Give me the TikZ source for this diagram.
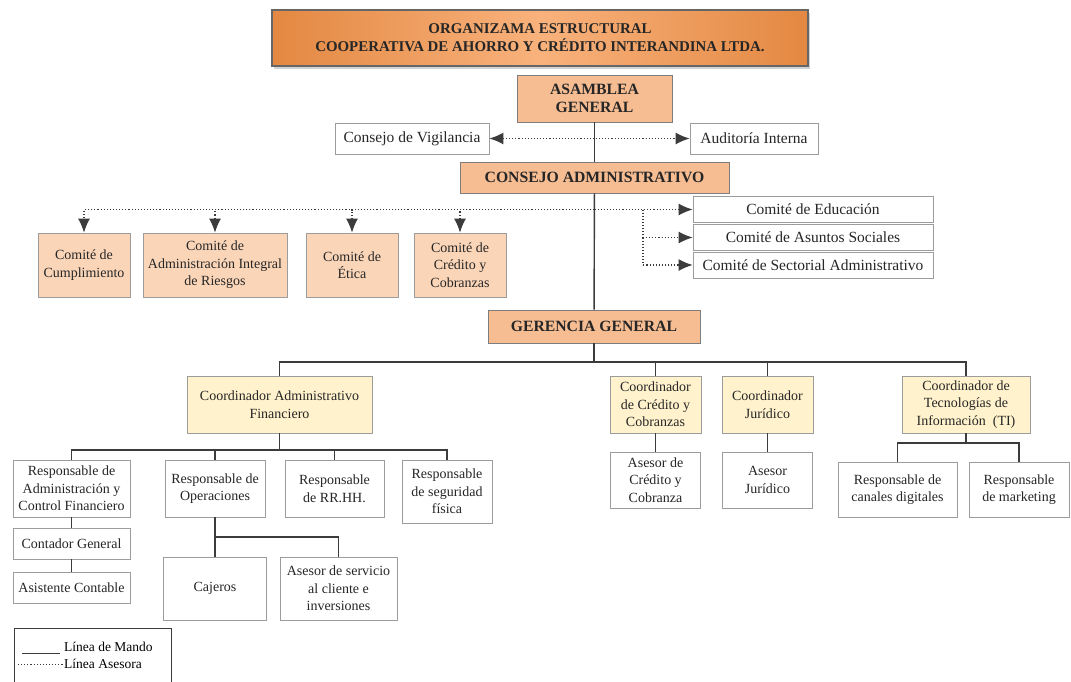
\documentclass[tikz,border=0pt]{standalone}
\usepackage{fontspec}
\setmainfont{Liberation Serif}
\usetikzlibrary{arrows.meta,shadows}

\definecolor{tituloA}{HTML}{E38842}
\definecolor{tituloB}{HTML}{F9B27C}
\definecolor{naranja}{HTML}{F6BC92}
\definecolor{durazno}{HTML}{FAD5B8}
\definecolor{crema}{HTML}{FFF2CC}
\definecolor{borde}{HTML}{9C9C9C}
\definecolor{linea}{HTML}{3C3C3C}

\begin{document}
\begin{tikzpicture}[x=1pt,y=-1pt,>={Latex[length=14pt,width=12pt]},
  box/.style={rectangle, draw=borde, line width=0.9pt, fill=white, align=center, inner sep=2pt, text=black!85, font=\fontsize{14}{17.5}\selectfont},
  jefe/.style={box, fill=naranja, draw=borde!80!black, font=\bfseries\fontsize{15.7}{18}\selectfont},
  comite/.style={box, fill=durazno},
  coord/.style={box, fill=crema},
  mando/.style={draw=linea, line width=1.4pt},
  asesora/.style={draw=linea, line width=1.1pt, dotted}
]
  \useasboundingbox (0,0) rectangle (1071,681);

  % Nodes
  \node[box, draw=black!60, line width=1.2pt, left color=tituloA, right color=tituloA, middle color=tituloB,
        drop shadow={opacity=0.35, shadow xshift=2pt, shadow yshift=-3pt},
        minimum width=536, minimum height=56, font=\bfseries\fontsize{14.9}{18}\selectfont] (titulo) at (540,38)
        {ORGANIZAMA ESTRUCTURAL\\COOPERATIVA DE AHORRO Y CRÉDITO INTERANDINA LTDA.};
  \node[jefe, minimum width=155, minimum height=47] (asamblea) at (594.5,98.5) {ASAMBLEA\\GENERAL};
  \node[box, minimum width=154, minimum height=31, font=\fontsize{15.5}{18}\selectfont] (vigilancia) at (412,138.5) {Consejo de Vigilancia};
  \node[box, minimum width=128, minimum height=31, font=\fontsize{15.5}{18}\selectfont] (auditoria) at (754,138.5) {Auditoría Interna};
  \node[jefe, minimum width=269, minimum height=31] (consejo) at (594.5,177.5) {CONSEJO ADMINISTRATIVO};

  % comites
  \node[comite, minimum width=92, minimum height=64] (cumpl) at (84,265) {Comité de\\Cumplimiento};
  \node[comite, minimum width=144, minimum height=64] (riesgos) at (215,265) {Comité de\\Administración Integral\\de Riesgos};
  \node[comite, minimum width=92, minimum height=64] (etica) at (352,265) {Comité de\\Ética};
  \node[comite, minimum width=92, minimum height=64] (credcob) at (460,265) {Comité de\\Crédito y\\Cobranzas};
  \node[box, minimum width=240, minimum height=26, font=\fontsize{15.5}{17}\selectfont] (educ) at (813,209.5) {Comité de Educación};
  \node[box, minimum width=240, minimum height=26, font=\fontsize{15.5}{17}\selectfont] (sociales) at (813,237.5) {Comité de Asuntos Sociales};
  \node[box, minimum width=240, minimum height=26, font=\fontsize{15.5}{17}\selectfont] (sectorial) at (813,265) {Comité de Sectorial Administrativo};

  \node[jefe, minimum width=212, minimum height=33] (gerencia) at (594,326.5) {GERENCIA GENERAL};

  % coordinadores
  \node[coord, minimum width=185, minimum height=57] (cadmfin) at (279.5,404.5) {Coordinador Administrativo\\Financiero};
  \node[coord, minimum width=91, minimum height=57] (ccredito) at (655.5,404.5) {Coordinador\\de Crédito y\\Cobranzas};
  \node[coord, minimum width=91, minimum height=57] (cjuridico) at (767.5,404.5) {Coordinador\\Jurídico};
  \node[coord, minimum width=128, minimum height=57] (cti) at (966,404.5) {Coordinador de\\Tecnologías de\\Información \ (TI)};

  \node[box, minimum width=90, minimum height=56] (acredito) at (655.5,480) {Asesor de\\Crédito y\\Cobranza};
  \node[box, minimum width=90, minimum height=56] (ajuridico) at (767.5,480) {Asesor\\Jurídico};
  \node[box, minimum width=119, minimum height=55] (rcanales) at (897.5,489.5) {Responsable de\\canales digitales};
  \node[box, minimum width=100, minimum height=55] (rmarketing) at (1019,489.5) {Responsable\\de marketing};

  % area administrativa financiera
  \node[box, minimum width=117, minimum height=57] (radmin) at (71.5,488.5) {Responsable de\\Administración y\\Control Financiero};
  \node[box, minimum width=100, minimum height=57] (roper) at (215,488.5) {Responsable de\\Operaciones};
  \node[box, minimum width=99, minimum height=57] (rrhh) at (334.5,488.5) {Responsable\\de RR.HH.};
  \node[box, minimum width=90, minimum height=63] (rseg) at (447,491.5) {Responsable\\de seguridad\\física};
  \node[box, minimum width=117, minimum height=31] (contador) at (71.5,543.5) {Contador General};
  \node[box, minimum width=117, minimum height=31] (asistente) at (71.5,587.5) {Asistente Contable};
  \node[box, minimum width=103, minimum height=63] (cajeros) at (215,588.5) {Cajeros};
  \node[box, minimum width=117, minimum height=63] (aservicio) at (338.5,588.5) {Asesor de servicio\\al cliente e\\inversiones};

  % leyenda
  \node[box, draw=linea, line width=1.3pt, anchor=north west, minimum width=157, minimum height=56] (leyenda) at (14,628) {};
  \node[anchor=west, inner sep=0pt, font=\fontsize{13.5}{16}\selectfont] (lmando) at (64,647) {Línea de Mando};
  \node[anchor=west, inner sep=0pt, font=\fontsize{13.5}{16}\selectfont] (lasesora) at (64,664) {Línea Asesora};
  \draw[draw=linea, line width=0.8pt] ([xshift=-42pt,yshift=-2pt]lmando.base west) -- ([xshift=-4pt,yshift=-2pt]lmando.base west);
  \draw[asesora, line width=0.8pt] ([xshift=-46pt,yshift=4pt]lasesora.base west) -- ([xshift=-1pt,yshift=4pt]lasesora.base west);

  % Edges: linea de mando
  \draw[mando] (asamblea) -- (consejo);
  \draw[mando] (consejo) -- (gerencia);
  \coordinate (gbar) at (594,362);
  \draw[mando] (gerencia) -- (gbar);
  \draw[mando] (cadmfin.north) |- (gbar) -| (cti.north);
  \draw[mando] (ccredito.north) -- (ccredito.north |- gbar);
  \draw[mando] (cjuridico.north) -- (cjuridico.north |- gbar);
  \draw[mando] (ccredito) -- (acredito);
  \draw[mando] (cjuridico) -- (ajuridico);
  \coordinate (tibar) at (966,443);
  \draw[mando] (cti) -- (tibar);
  \draw[mando] (rcanales.north) |- (tibar) -| (rmarketing.north);
  \coordinate (afbar) at (279.5,450);
  \draw[mando] (cadmfin) -- (afbar);
  \draw[mando] (radmin.north) |- (afbar) -| (rseg.north);
  \draw[mando] (roper.north) -- (roper.north |- afbar);
  \draw[mando] (rrhh.north) -- (rrhh.north |- afbar);
  \draw[mando] (radmin) -- (contador);
  \draw[mando] (contador) -- (asistente);
  \coordinate (opbar) at (215,537);
  \draw[mando] (roper.south) -- (opbar);
  \draw[mando] (cajeros.north) |- (opbar) -| (aservicio.north);

  % Edges: linea asesora
  \draw[asesora, <->] (vigilancia) -- (auditoria);
  \coordinate (cadot) at (594.5,209.5);
  \coordinate (rdot) at (643,209.5);
  \foreach \c in {cumpl,riesgos,etica,credcob}
    \draw[asesora, ->] (cadot) -| (\c.north);
  \draw[asesora, ->] (cadot) -- (educ.west);
  \draw[asesora, ->] (rdot) |- (sociales.west);
  \draw[asesora, ->] (rdot) |- (sectorial.west);
\end{tikzpicture}
\end{document}
